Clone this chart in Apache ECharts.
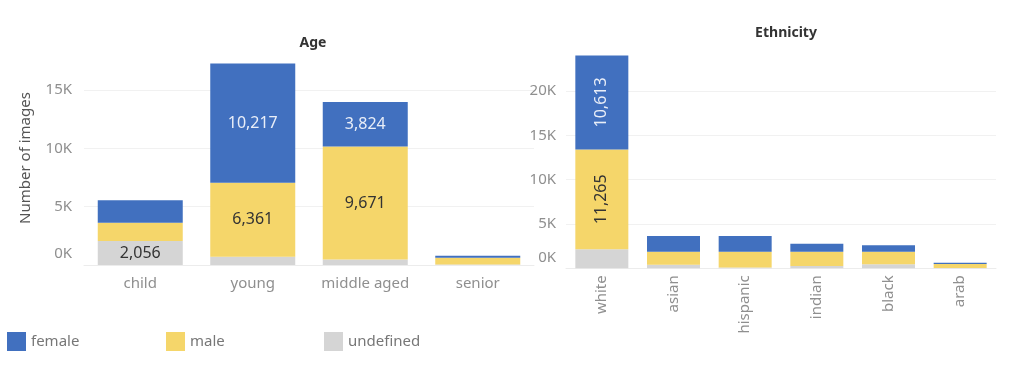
<!DOCTYPE html>
<html>
<head>
<meta charset="utf-8">
<script src="https://cdn.jsdelivr.net/npm/echarts@6/dist/echarts.min.js"></script>
<style>html,body{margin:0;padding:0;background:#fff}#c{width:1024px;height:368px}</style>
</head>
<body>
<div id="c"></div>
<script>
// ---- data ----
const ageCategories = ['child', 'young', 'middle aged', 'senior'];
const ageFemale    = [1920, 10217, 3824, 180];
const ageMale      = [1570, 6361, 9671, 580];
const ageUndefined = [2056, 700, 480, 40];

const ethCategories = ['white', 'asian', 'hispanic', 'indian', 'black', 'arab'];
const ethFemale    = [10613, 1770, 1775, 900, 730, 150];
const ethMale      = [11265, 1470, 1770, 1620, 1420, 450];
const ethUndefined = [2150, 400, 100, 250, 450, 30];

const yTicksAge = [0, 5000, 10000, 15000];
const yTicksEth = [0, 5000, 10000, 15000, 20000];

// which cells carry a value label
const labeledAge = { female: ['young', 'middle aged'], male: ['young', 'middle aged'], undefined: ['child'] };
const labeledEth = { female: ['white'], male: ['white'], undefined: [] };

const seriesNames = ['female', 'male', 'undefined'];
const colors = { female: '#4170bf', male: '#f5d66a', undefined: '#d5d5d5' };
const labelColors = { female: '#e9eef8', male: '#333333', undefined: '#333333' };
const FONT = '"Noto Sans", sans-serif';

function fmtNum(v) { return v.toLocaleString('en-US'); }

function tickFormatter(ticks) {
  return function (v) {
    if (ticks.indexOf(v) < 0) return '';
    if (v === 0) return '{z|0K}';
    return (v / 1000) + 'K';
  };
}

function makeSeries(name, values, cats, labeled, axisIdx, stack, barWidth, rotate) {
  return {
    name: name, type: 'bar', stack: stack,
    xAxisIndex: axisIdx, yAxisIndex: axisIdx,
    barWidth: barWidth,
    itemStyle: { color: colors[name] },
    label: {
      show: false, position: 'inside', rotate: rotate,
      color: labelColors[name], fontFamily: FONT, fontSize: 16,
      formatter: p => fmtNum(p.value)
    },
    emphasis: { disabled: true },
    data: values.map((v, i) => ({ value: v, label: { show: labeled[name].indexOf(cats[i]) >= 0 } }))
  };
}

const yAxisCommon = (ticks, max, margin) => ({
  type: 'value', min: 0, max: max, interval: 5000,
  axisLine: { show: false }, axisTick: { show: false },
  splitLine: { show: true, showMaxLine: false, lineStyle: { color: '#f1f1f1', width: 1 } },
  axisLabel: {
    showMaxLabel: false, margin: margin,
    fontFamily: FONT, fontSize: 15, color: '#8f8f8f',
    formatter: tickFormatter(ticks),
    rich: { z: { fontFamily: FONT, fontSize: 15, color: '#8f8f8f', padding: [0, 0, 22, 0] } }
  }
});

const option = {
  animation: false,
  textStyle: { fontFamily: FONT },
  title: [
    { text: 'Age', left: 308, top: 31, textAlign: 'center',
      textStyle: { fontFamily: FONT, fontSize: 14, fontWeight: 'bold', color: '#333' } },
    { text: 'Ethnicity', left: 781, top: 21, textAlign: 'center',
      textStyle: { fontFamily: FONT, fontSize: 14, fontWeight: 'bold', color: '#333' } }
  ],
  legend: seriesNames.map((n, i) => ({
    data: [n], left: [2, 161, 319][i], top: 327,
    icon: 'rect', itemWidth: 19, itemHeight: 19, itemGap: 5,
    selectedMode: false,
    textStyle: { fontFamily: FONT, fontSize: 15, color: '#777' }
  })),
  grid: [
    { left: 84, right: 490, top: 31.7, bottom: 103 },
    { left: 566, right: 28, top: 46.8, bottom: 99.7 }
  ],
  xAxis: [
    { type: 'category', gridIndex: 0, data: ageCategories,
      axisLine: { lineStyle: { color: '#ececec' } }, axisTick: { show: false },
      axisLabel: { interval: 0, margin: 11, fontFamily: FONT, fontSize: 15, color: '#8f8f8f' } },
    { type: 'category', gridIndex: 1, data: ethCategories,
      axisLine: { lineStyle: { color: '#ececec' } }, axisTick: { show: false },
      axisLabel: { interval: 0, rotate: 90, margin: 7, fontFamily: FONT, fontSize: 15, color: '#8f8f8f' } }
  ],
  yAxis: [
    Object.assign({ gridIndex: 0 }, yAxisCommon(yTicksAge, 20000, 12)),
    Object.assign({ gridIndex: 1 }, yAxisCommon(yTicksEth, 25000, 10))
  ],
  graphic: [
    { type: 'text', x: 26, y: 158, rotation: Math.PI / 2,
      style: { text: 'Number of images', font: '15px "Noto Sans", sans-serif', fill: '#555',
               align: 'center', verticalAlign: 'middle' } }
  ],
  series: [
    makeSeries('undefined', ageUndefined, ageCategories, labeledAge, 0, 'age', 85, 0),
    makeSeries('male', ageMale, ageCategories, labeledAge, 0, 'age', 85, 0),
    makeSeries('female', ageFemale, ageCategories, labeledAge, 0, 'age', 85, 0),
    makeSeries('undefined', ethUndefined, ethCategories, labeledEth, 1, 'eth', 53, 90),
    makeSeries('male', ethMale, ethCategories, labeledEth, 1, 'eth', 53, 90),
    makeSeries('female', ethFemale, ethCategories, labeledEth, 1, 'eth', 53, 90)
  ]
};

const chart = echarts.init(document.getElementById('c'), null, { renderer: 'canvas' });
chart.setOption(option);
</script>
</body>
</html>
